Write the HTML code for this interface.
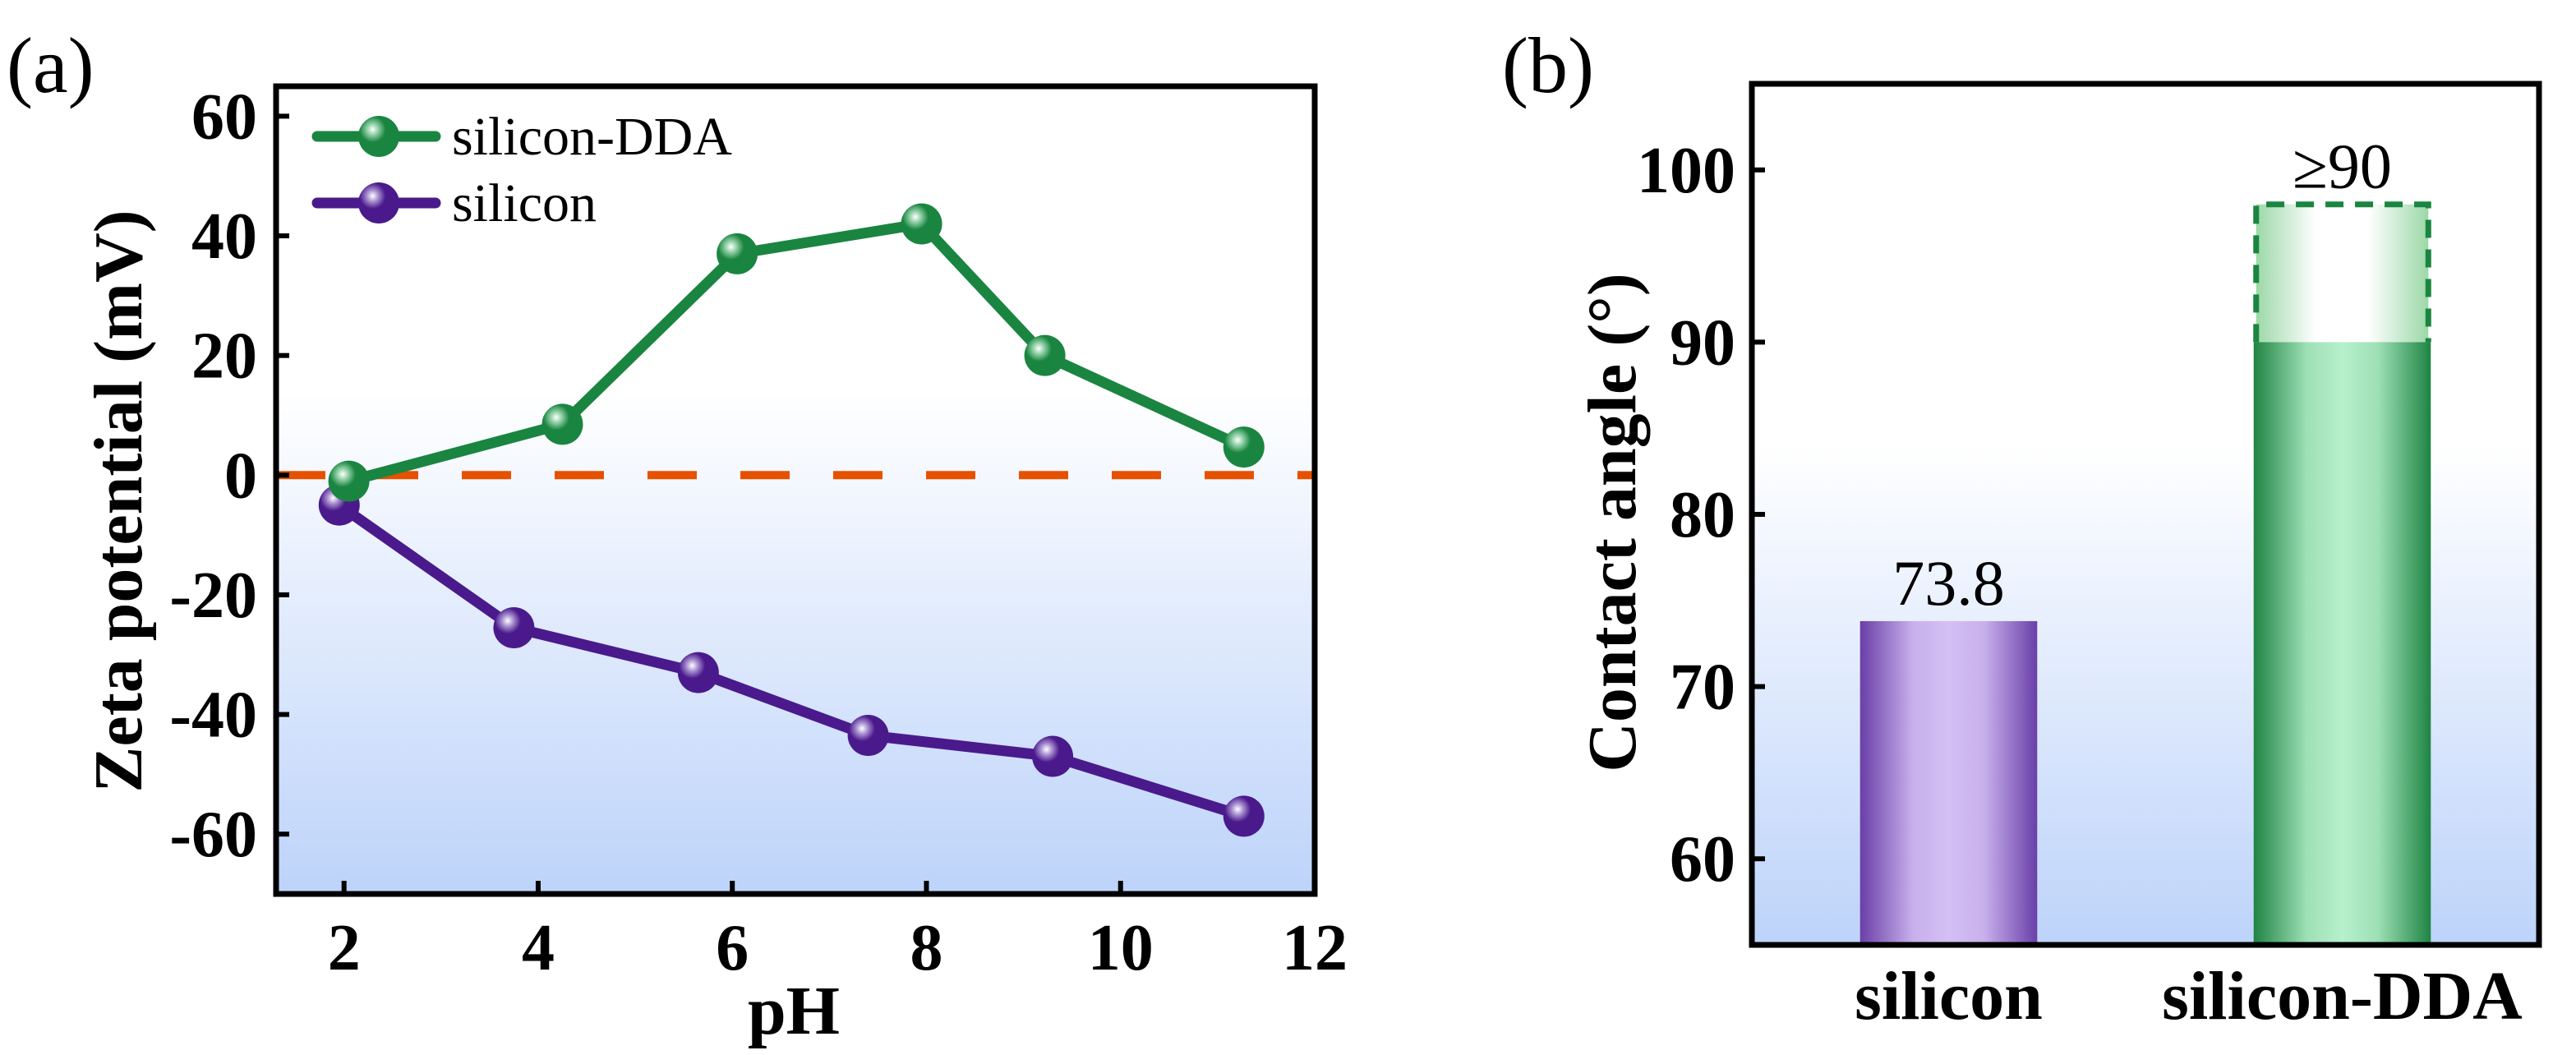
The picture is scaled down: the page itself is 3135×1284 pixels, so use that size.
<!DOCTYPE html>
<html><head><meta charset="utf-8"><style>
html,body{margin:0;padding:0;background:#fff;}
svg{display:block;font-family:"Liberation Serif",serif;}
</style></head><body>
<svg id="chart" width="3135" height="1284" viewBox="0 0 3135 1284" xmlns="http://www.w3.org/2000/svg">
<defs>
<linearGradient id="bgA" x1="0" y1="0" x2="0" y2="1">
<stop offset="0" stop-color="#ffffff"/><stop offset="0.38" stop-color="#ffffff"/><stop offset="1" stop-color="#bdd3fa"/>
</linearGradient>
<linearGradient id="bgB" x1="0" y1="0" x2="0" y2="1">
<stop offset="0" stop-color="#ffffff"/><stop offset="0.42" stop-color="#ffffff"/><stop offset="1" stop-color="#bdd3fa"/>
</linearGradient>
<radialGradient id="mG" cx="0.35" cy="0.33" r="0.7">
<stop offset="0" stop-color="#ffffff"/><stop offset="0.2" stop-color="#8fcfa5"/><stop offset="0.45" stop-color="#1a8540"/><stop offset="1" stop-color="#1a8540"/>
</radialGradient>
<radialGradient id="mP" cx="0.35" cy="0.33" r="0.7">
<stop offset="0" stop-color="#ffffff"/><stop offset="0.2" stop-color="#a88fd0"/><stop offset="0.45" stop-color="#4a1a8c"/><stop offset="1" stop-color="#4a1a8c"/>
</radialGradient>
<linearGradient id="barP" x1="0" y1="0" x2="1" y2="0">
<stop offset="0" stop-color="#6a3fa8"/><stop offset="0.3" stop-color="#c8b0ec"/><stop offset="0.5" stop-color="#d4c0f4"/><stop offset="0.7" stop-color="#c8b0ec"/><stop offset="1" stop-color="#6a3fa8"/>
</linearGradient>
<linearGradient id="barG" x1="0" y1="0" x2="1" y2="0">
<stop offset="0" stop-color="#1f8443"/><stop offset="0.3" stop-color="#9ee0b6"/><stop offset="0.5" stop-color="#b6f0cc"/><stop offset="0.7" stop-color="#9ee0b6"/><stop offset="1" stop-color="#1f8443"/>
</linearGradient>
<linearGradient id="barL" x1="0" y1="0" x2="1" y2="0">
<stop offset="0" stop-color="#9cd8a8"/><stop offset="0.35" stop-color="#ffffff"/><stop offset="0.65" stop-color="#ffffff"/><stop offset="1" stop-color="#9cd8a8"/>
</linearGradient>
</defs>
<g id="pa"></g>
<g id="pb"></g>
</svg>
<script>
const phTicks=[2,4,6,8,10,12];
const zetaTicks=[-60,-40,-20,0,20,40,60];
const ddaPH=[2.05,4.25,6.05,7.95,9.22,11.27];
const ddaZeta=[-1,8.5,37,42,20,4.7];
const siPH=[1.95,3.75,5.65,7.4,9.3,11.27];
const siZeta=[-5,-25.5,-33,-43.5,-47,-57];
const categories=["silicon","silicon-DDA"];
const angleValues=[73.8,90];
const angleExtra=[null,98];
const angleLabels=["73.8","≥90"];
const angleTicks=[60,70,80,90,100];

const NS="http://www.w3.org/2000/svg";
function mk(parent,tag,attrs,text){const e=document.createElementNS(NS,tag);for(const k in attrs)e.setAttribute(k,attrs[k]);if(text!==undefined)e.textContent=text;parent.appendChild(e);return e;}

// Panel A
const pa=document.getElementById('pa');
const A={l:336,r:1600,t:105,b:1088,x0:1.3,x1:12,y0:-70,y1:65};
const ax=v=>A.l+(v-A.x0)/(A.x1-A.x0)*(A.r-A.l);
const ay=v=>A.b-(v-A.y0)/(A.y1-A.y0)*(A.b-A.t);
let e=mk(pa,'rect',{x:A.l,y:A.t,width:A.r-A.l,height:A.b-A.t,fill:'url(#bgA)'});

e=mk(pa,'line',{x1:A.l,x2:A.r,y1:ay(0),y2:ay(0),stroke:'#e65100','stroke-width':10,'stroke-dasharray':'60 53'});

function series(xs,ys,color,grad,name){
  const g=mk(pa,'g',{});
  
  const pts=xs.map((x,i)=>ax(x)+','+ay(ys[i])).join(' ');
  const pl=mk(g,'polyline',{points:pts,fill:'none',stroke:color,'stroke-width':13,'stroke-linejoin':'round'});
  
  xs.forEach((x,i)=>{const c=mk(g,'circle',{cx:ax(x),cy:ay(ys[i]),r:25,fill:'url(#'+grad+')'});
    });
}
series(siPH,siZeta,'#4a1a8c','mP','silicon');
series(ddaPH,ddaZeta,'#1a8540','mG','silicon-dda');
phTicks.forEach(v=>{
  const t=mk(pa,'line',{x1:ax(v),x2:ax(v),y1:A.b,y2:A.b-16,stroke:'#000','stroke-width':6});
  
  const l=mk(pa,'text',{x:ax(v),y:1180,'font-size':80,'font-weight':'bold','text-anchor':'middle'},String(v));
  
});
zetaTicks.forEach(v=>{
  const t=mk(pa,'line',{x1:A.l,x2:A.l+16,y1:ay(v),y2:ay(v),stroke:'#000','stroke-width':6});
  
  const l=mk(pa,'text',{x:313,y:ay(v)+27,'font-size':80,'font-weight':'bold','text-anchor':'end'},String(v));
  
});
e=mk(pa,'rect',{x:A.l,y:A.t,width:A.r-A.l,height:A.b-A.t,fill:'none',stroke:'#000','stroke-width':7});

e=mk(pa,'text',{x:966,y:1258,'font-size':84,'font-weight':'bold','text-anchor':'middle'},'pH');

e=mk(pa,'text',{x:0,y:0,'font-size':84,'font-weight':'bold','text-anchor':'middle',transform:'translate(172,610) rotate(-90)'},'Zeta potential (mV)');

e=mk(pa,'text',{x:8,y:112,'font-size':96},'(a)');

// legend
[['silicon-DDA','#1a8540','mG',166],['silicon','#4a1a8c','mP',247]].forEach(d=>{
  const g=mk(pa,'g',{});
  
  mk(g,'line',{x1:386,x2:530,y1:d[3],y2:d[3],stroke:d[1],'stroke-width':13,'stroke-linecap':'round'});
  mk(g,'circle',{cx:461,cy:d[3],r:25,fill:'url(#'+d[2]+')'});
  mk(g,'text',{x:550,y:d[3]+22,'font-size':66},d[0]);
});

// Panel B
const pb=document.getElementById('pb');
const B={l:2132,r:3090,t:102,b:1150,y0:55,y1:105};
const by=v=>B.b-(v-B.y0)/(B.y1-B.y0)*(B.b-B.t);
const bw=(B.r-B.l)/categories.length;
const bx=i=>B.l+bw*(i+0.5);
const barW=bw*0.45;
e=mk(pb,'rect',{x:B.l,y:B.t,width:B.r-B.l,height:B.b-B.t,fill:'url(#bgB)'});

categories.forEach((c,i)=>{
  const grad=i===0?'url(#barP)':'url(#barG)';
  let topY=by(angleValues[i]);
  if(angleExtra[i]!==null){
    const y1=by(angleExtra[i]),y2=by(angleValues[i]);
    const x0=bx(i)-barW/2+3,x1=bx(i)+barW/2-3;
    const f=mk(pb,'rect',{x:x0,y:y1,width:x1-x0,height:y2-y1,fill:'url(#barL)'});
    
    const o=mk(pb,'path',{d:`M${x0},${y2} L${x0},${y1} L${x1},${y1} L${x1},${y2}`,fill:'none',stroke:'#1a8540','stroke-width':7,'stroke-dasharray':'22 14'});
    
    topY=y1;
  }
  const r=mk(pb,'rect',{x:bx(i)-barW/2,y:by(angleValues[i]),width:barW,height:B.b-by(angleValues[i]),fill:grad});
  
  const l=mk(pb,'text',{x:bx(i),y:topY-20,'font-size':78,'text-anchor':'middle'},angleLabels[i]);
  
  const cl=mk(pb,'text',{x:bx(i),y:1240,'font-size':84,'font-weight':'bold','text-anchor':'middle'},c);
  
});
angleTicks.forEach(v=>{
  const t=mk(pb,'line',{x1:B.l,x2:B.l+16,y1:by(v),y2:by(v),stroke:'#000','stroke-width':6});
  
  const l=mk(pb,'text',{x:2112,y:by(v)+27,'font-size':80,'font-weight':'bold','text-anchor':'end'},String(v));
  
});
e=mk(pb,'rect',{x:B.l,y:B.t,width:B.r-B.l,height:B.b-B.t,fill:'none',stroke:'#000','stroke-width':7});

e=mk(pb,'text',{x:0,y:0,'font-size':84,'font-weight':'bold','text-anchor':'middle',transform:'translate(1990,636) rotate(-90)'},'Contact angle (°)');

e=mk(pb,'text',{x:1828,y:112,'font-size':96},'(b)');

</script>
</body></html>
